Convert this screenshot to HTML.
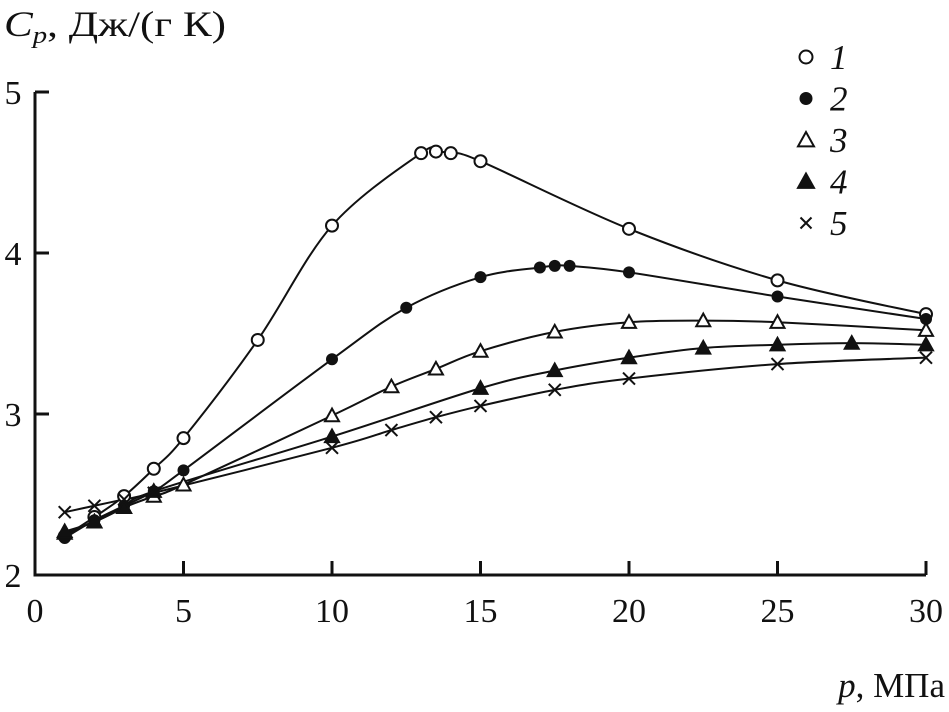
<!DOCTYPE html>
<html><head><meta charset="utf-8"><style>
body{margin:0;background:#fff}
svg text{font-family:"Liberation Serif",serif;fill:#111}
</style></head><body>
<svg id="chart" width="949" height="707" viewBox="0 0 949 707" xmlns="http://www.w3.org/2000/svg">
<text x="4" y="36" font-size="36" textLength="222" lengthAdjust="spacingAndGlyphs"><tspan font-style="italic">C</tspan><tspan font-style="italic" font-size="24" dy="7">p</tspan><tspan dy="-7">, Дж/(г К)</tspan></text>
<text x="945" y="697" font-size="35" text-anchor="end"><tspan font-style="italic">p</tspan>, МПа</text>
<g id="axes"></g><g id="curves"></g><g id="marks"></g><g id="legend"></g>
</svg>
<script>
const xTicks=[0,5,10,15,20,25,30];
const yTicks=[2,3,4,5];
const s1x=[1,2,3,4,5,7.5,10,13,13.5,14,15,20,25,30];
const s1y=[2.24,2.36,2.49,2.66,2.85,3.46,4.17,4.62,4.63,4.62,4.57,4.15,3.83,3.62];
const s2x=[1,2,3,4,5,10,12.5,15,17,17.5,18,20,25,30];
const s2y=[2.23,2.34,2.43,2.52,2.65,3.34,3.66,3.85,3.91,3.92,3.92,3.88,3.73,3.59];
const s3x=[1,2,3,4,5,10,12,13.5,15,17.5,20,22.5,25,30];
const s3y=[2.26,2.33,2.42,2.49,2.56,2.99,3.17,3.28,3.39,3.51,3.57,3.58,3.57,3.52];
const s4x=[1,2,3,4,10,15,17.5,20,22.5,25,27.5,30];
const s4y=[2.27,2.33,2.42,2.52,2.86,3.16,3.27,3.35,3.41,3.43,3.44,3.43];
const s5x=[1,2,3,4,10,12,13.5,15,17.5,20,25,30];
const s5y=[2.39,2.43,2.47,2.51,2.79,2.90,2.98,3.05,3.15,3.22,3.31,3.35];
const names=['1','2','3','4','5'];
const NS='http://www.w3.org/2000/svg';
const X=v=>35+29.7*v, Y=v=>575-161*(v-2);
function mk(t,a,p){const e=document.createElementNS(NS,t);for(const k in a)e.setAttribute(k,a[k]);p.appendChild(e);return e;}
const ax=document.getElementById('axes');
let l=mk('path',{d:`M${X(0)} ${Y(5)}V${Y(2)}H${X(30)}`,fill:'none',stroke:'#111','stroke-width':3},ax);


xTicks.forEach(v=>{
 const t=mk('line',{x1:X(v),x2:X(v),y1:Y(2),y2:Y(2)-14,stroke:'#111','stroke-width':3},ax);
 
 
 const tx=mk('text',{x:X(v),y:622,'font-size':34,'text-anchor':'middle'},ax);tx.textContent=v;
 
 
});
yTicks.forEach(v=>{
 const t=mk('line',{x1:X(0),x2:X(0)+14,y1:Y(v),y2:Y(v),stroke:'#111','stroke-width':3},ax);
 
 
 const tx=mk('text',{x:13,y:Y(v)+12,'font-size':34,'text-anchor':'middle'},ax);tx.textContent=v;
 
 
});
function smooth(xs,ys){const p=xs.map((x,i)=>[X(x),Y(ys[i])]);let d=`M${p[0][0]} ${p[0][1]}`;
 for(let i=0;i<p.length-1;i++){const a=p[i-1]||p[i],b=p[i],c=p[i+1],e=p[i+2]||c;
 d+=`C${b[0]+(c[0]-a[0])/6} ${b[1]+(c[1]-a[1])/6} ${c[0]-(e[0]-b[0])/6} ${c[1]-(e[1]-b[1])/6} ${c[0]} ${c[1]}`;}return d;}
function marker(type,cx,cy,g,r){let e;
 if(type===0)e=mk('circle',{cx,cy,r:r||6,fill:'#fff',stroke:'#111','stroke-width':2},g);
 else if(type===1)e=mk('circle',{cx,cy,r:r||6,fill:'#111'},g);
 else if(type===2||type===3){const s=r||7;e=mk('polygon',{points:`${cx},${cy-s} ${cx-s},${cy+s*0.8} ${cx+s},${cy+s*0.8}`,fill:type===3?'#111':'#fff',stroke:'#111','stroke-width':2},g);}
 else{const s=r||6;e=mk('path',{d:`M${cx-s} ${cy-s}L${cx+s} ${cy+s}M${cx-s} ${cy+s}L${cx+s} ${cy-s}`,stroke:'#111','stroke-width':2},g);}
 return e;}
const series=[[s1x,s1y],[s2x,s2y],[s3x,s3y],[s4x,s4y],[s5x,s5y]];
const cg=document.getElementById('curves'),mg=document.getElementById('marks'),lg=document.getElementById('legend');
series.forEach(([xs,ys],k)=>{
 const c=mk('path',{d:smooth(xs,ys),fill:'none',stroke:'#111','stroke-width':2},cg);
 
 
 xs.forEach((x,i)=>{const m=marker(k,X(x),Y(ys[i]),mg);
  
  });
 const ly=57+41.5*k;
 const lm=marker(k,806,ly,lg,k<2?6.5:k===4?5.5:8);
 
 
 const t=mk('text',{x:830,y:ly+12,'font-size':35,'font-style':'italic'},lg);t.textContent=names[k];
 
 
});
</script>
</body></html>
